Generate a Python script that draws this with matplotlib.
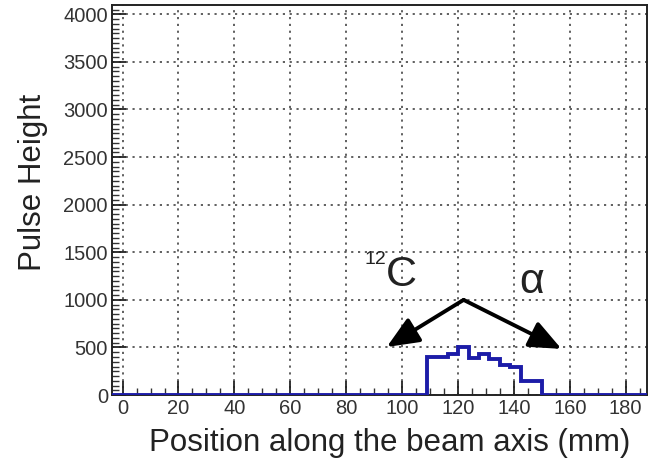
import numpy as np
import matplotlib
matplotlib.use("Agg")
import matplotlib.pyplot as plt
from matplotlib.ticker import MultipleLocator

plt.rcParams['font.family'] = ['Liberation Sans', 'DejaVu Sans']

# ---- data ----
bin_lo = -3.75
bin_hi = 187.5
pulse_height = [0, 0, 0, 0, 0, 0, 0, 0, 0, 0,
                0, 0, 0, 0, 0, 0, 0, 0, 0, 0,
                0, 0, 0, 0, 0, 0, 0, 0, 0, 0,
                400, 405, 435, 500, 385, 435, 380, 320, 300, 150,
                150, 0, 0, 0, 0, 0, 0, 0, 0, 0, 0]
x_ticks = [0, 20, 40, 60, 80, 100, 120, 140, 160, 180]
y_ticks = [0, 500, 1000, 1500, 2000, 2500, 3000, 3500, 4000]
y_max = 4096
arrow_origin = (122, 1000)
arrow_left_tip = (94.5, 505)
arrow_right_tip = (157, 485)
label_c = "C"
label_c_mass = "12"
label_alpha = "\u03b1"

edges = np.linspace(bin_lo, bin_hi, len(pulse_height) + 1)

fig = plt.figure(figsize=(6.48, 4.67), dpi=100)
ax = fig.add_axes([0.173, 0.154, 0.825, 0.835])

ax.set_xlim(bin_lo, bin_hi)
ax.set_ylim(0, y_max)

ax.grid(True, which='major', color='#444444', linestyle=(0, (1.3, 2.8)), lw=1.2)
ax.set_axisbelow(True)

ax.stairs(pulse_height, edges, color='#1c1ca8', lw=2.8, zorder=3, baseline=0)

ax.set_xticks(x_ticks)
ax.set_yticks(y_ticks)
ax.xaxis.set_minor_locator(MultipleLocator(5))
ax.yaxis.set_minor_locator(MultipleLocator(50))
ax.tick_params(which='major', direction='in', length=10, width=1.3, colors='#222222',
               labelsize=14.5, labelcolor='#333333', pad=3)
ax.tick_params(which='minor', direction='in', length=5, width=1.0, colors='#333333')
for s in ax.spines.values():
    s.set_linewidth(1.4)
    s.set_color('#222222')

ax.set_xlabel("Position along the beam axis (mm)", fontsize=22.5, color='#222222')
ax.set_ylabel("Pulse Height", fontsize=22.5, color='#222222')
ax.xaxis.set_label_coords(0.52, -0.085)
ax.yaxis.set_label_coords(-0.12, 0.545)

arrow_kw = dict(arrowstyle='-|>,head_length=0.75,head_width=0.32', color='black',
                lw=2.8, mutation_scale=26, shrinkA=0, shrinkB=0)
ax.annotate("", xy=arrow_left_tip, xytext=arrow_origin, arrowprops=arrow_kw, zorder=4)
ax.annotate("", xy=arrow_right_tip, xytext=arrow_origin, arrowprops=arrow_kw, zorder=4)

ax.text(99.8, 1265, label_c, fontsize=31, ha='center', va='center', color='#222222')
ax.text(90.5, 1420, label_c_mass, fontsize=14, ha='center', va='center', color='#222222')
ax.text(146.3, 1185, label_alpha, fontsize=31, ha='center', va='center', color='#222222')

fig.savefig("out.png", dpi=100)
